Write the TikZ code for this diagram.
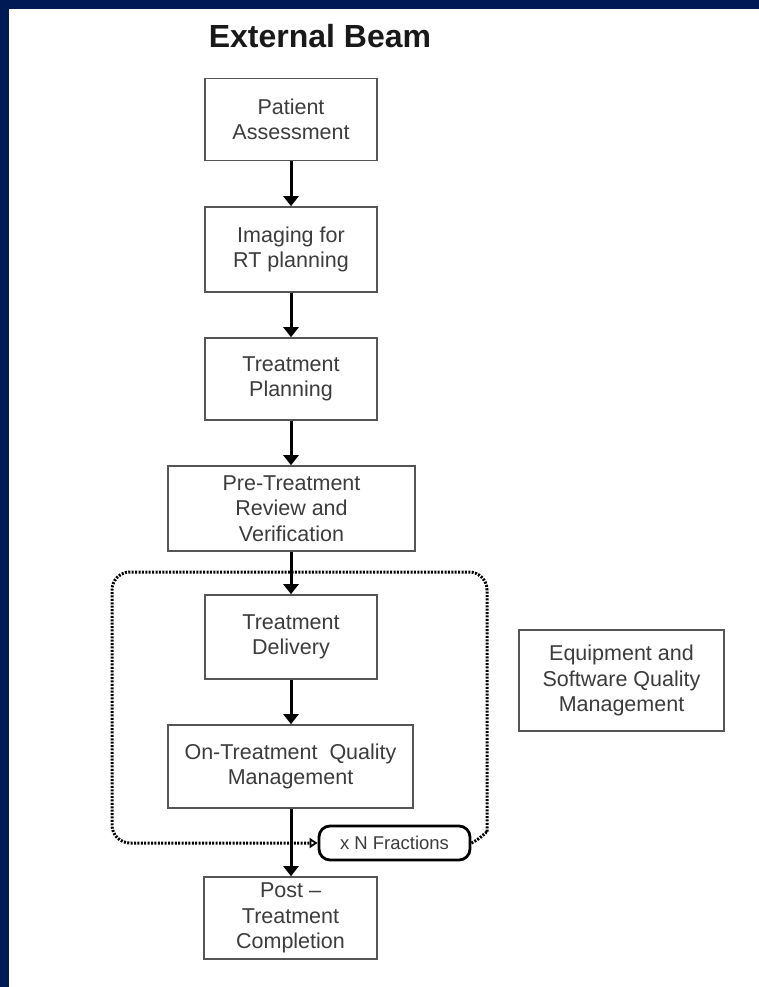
\documentclass[tikz,border=0pt]{standalone}
\usepackage{fontspec}
\setmainfont{Liberation Sans}
\usetikzlibrary{arrows.meta}
\definecolor{framenavy}{HTML}{001A55}
\definecolor{boxline}{HTML}{555555}
\definecolor{boxtext}{HTML}{3C3C3C}
\tikzset{
  stepbox/.style={draw=boxline, line width=1.6pt, fill=white, text=boxtext,
    align=center, inner sep=0pt,
    font=\fontsize{21.5}{25.5}\selectfont},
  flow/.style={line width=3pt, -{Triangle[width=15pt,length=10pt]}},
  fracbox/.style={draw=black, line width=2.8pt, rounded corners=11pt, fill=white,
    text=boxtext, inner sep=0pt, font=\fontsize{18.5}{21}\selectfont},
  loopline/.style={line width=3pt, dash pattern=on 2pt off 1.4pt, draw=black,
    -{Triangle[open, width=10pt, length=8pt, line width=1.8pt]}}
}
\begin{document}
\begin{tikzpicture}[x=1pt, y=-1pt]
  % page frame
  \fill[framenavy] (0,0) rectangle (759,987);
  \fill[white] (9,9) rectangle (759,987);
  \useasboundingbox (0,0) rectangle (759,987);

  % title
  \node[anchor=base, font=\fontsize{32}{36}\selectfont\bfseries, text=black!90]
    (title) at (320,48) {External Beam};

  % process steps
  \node[stepbox, minimum width=172pt, minimum height=82pt] (assess) at (291,119.5)
    {Patient\\Assessment};
  \node[stepbox, minimum width=172pt, minimum height=85pt] (imaging) at (291,249.5)
    {Imaging for\\RT planning};
  \node[stepbox, minimum width=172pt, minimum height=82pt] (plan) at (291,379)
    {Treatment\\Planning};
  \node[stepbox, minimum width=247pt, minimum height=85pt] (review) at (291.5,508.5)
    {Pre-Treatment\\Review and\\Verification};
  \node[stepbox, minimum width=172pt, minimum height=84pt] (deliver) at (291,637)
    {Treatment\\Delivery};
  \node[stepbox, minimum width=245pt, minimum height=83pt] (ontreat) at (290.5,766.5)
    {On-Treatment\ \ Quality\\Management};
  \node[stepbox, minimum width=173pt, minimum height=82pt] (post) at (290.5,918)
    {Post --\\Treatment\\Completion};
  \node[stepbox, minimum width=205pt, minimum height=101pt] (equip) at (621.5,680.5)
    {Equipment and\\Software Quality\\Management};

  % repeat label
  \node[fracbox, minimum width=151pt, minimum height=34pt] (frac) at (394.5,843)
    {x N Fractions};

  % fraction loop
  \draw[loopline, rounded corners=18pt] (frac.east)
    .. controls (482,838) and (487,830) .. (487,815)
    -- (487,572) -- (112,572) -- (112,843) -- (frac.west);

  % main flow, all on the centre line of the narrow boxes
  \draw[flow] (assess) -- (imaging);
  \draw[flow] (imaging) -- (plan);
  \draw[flow] (plan.south) -- (review.north -| plan.south);
  \draw[flow] (review.south -| deliver.north) -- (deliver.north);
  \draw[flow] (deliver) -- (ontreat.north -| deliver.south);
  \draw[flow] (ontreat.south -| deliver.south) -- (post.north -| deliver.south);
\end{tikzpicture}
\end{document}
